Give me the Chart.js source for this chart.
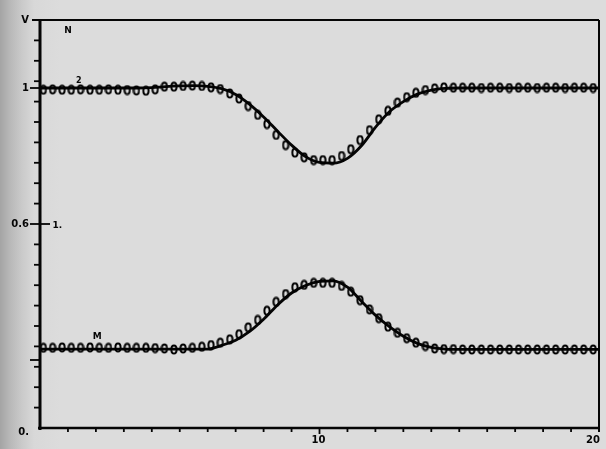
<!DOCTYPE html>
<html>
<head>
<meta charset="utf-8">
<script src="https://cdn.jsdelivr.net/npm/chart.js@4"></script>
<style>
html,body{margin:0;padding:0;}
body{width:606px;height:449px;overflow:hidden;
background:linear-gradient(to right,#a4a4a4 0px,#b8b8b8 10px,#cacaca 22px,#d8d8d8 34px,#dcdcdc 60px,#dcdcdc 100%);}
canvas{display:block;}
</style>
</head>
<body>
<canvas id="c" width="606" height="449"></canvas>
<script>
// marker abscissae (data points)
const markerX = [0.12,0.45,0.79,1.12,1.45,1.79,2.12,2.45,2.79,3.12,3.45,3.79,4.12,4.45,4.79,5.12,5.45,5.79,6.12,6.45,
  6.79,7.12,7.45,7.79,8.12,8.45,8.79,9.12,9.45,9.79,10.12,10.45,10.79,11.12,11.45,11.79,12.12,12.45,12.79,13.12,
  13.45,13.79,14.12,14.45,14.79,15.12,15.45,15.79,16.12,16.45,16.79,17.12,17.45,17.79,18.12,18.45,18.79,19.12,19.45,19.79];
// upper series N (markers)
const markerN = [0.995,0.996,0.995,0.995,0.996,0.995,0.995,0.996,0.995,0.994,0.993,0.992,0.996,1.004,1.004,1.006,1.007,1.006,1.002,0.997,
  0.984,0.969,0.947,0.921,0.894,0.862,0.832,0.810,0.796,0.788,0.788,0.788,0.800,0.820,0.847,0.876,0.908,0.933,0.957,0.973,
  0.986,0.994,0.999,1.002,1.001,1.001,1.001,1.000,1.001,1.001,1.000,1.001,1.001,1.000,1.001,1.001,1.000,1.001,1.001,1.000];
// lower series M (markers)
const markerM = [0.236,0.236,0.237,0.236,0.236,0.237,0.236,0.236,0.237,0.236,0.236,0.236,0.235,0.234,0.231,0.234,0.236,0.239,0.244,0.251,
  0.261,0.276,0.296,0.318,0.345,0.371,0.394,0.414,0.421,0.427,0.427,0.427,0.418,0.401,0.376,0.349,0.323,0.298,0.280,0.264,
  0.251,0.241,0.234,0.232,0.232,0.231,0.231,0.231,0.231,0.231,0.231,0.231,0.231,0.231,0.231,0.231,0.231,0.231,0.231,0.231];
// curve abscissae
const curveX = [0,0.5,1,1.5,2,2.5,3,3.5,4,4.5,5,5.5,6,6.5,7,7.5,8,8.5,9,9.5,10,10.5,11,11.5,12,12.5,13,13.5,14,14.5,15,15.5,16,16.5,17,17.5,18,18.5,19,19.5,20];
const curveN = [1.000,1.000,1.000,1.000,1.000,1.000,1.000,1.000,1.001,1.004,1.006,1.007,1.005,0.998,0.981,0.952,0.915,0.873,0.832,0.798,
  0.781,0.779,0.793,0.830,0.884,0.930,0.960,0.982,0.994,0.999,1.000,1.000,1.000,1.000,1.000,1.000,1.000,1.000,1.000,1.000,1.000];
const curveM = [0.232,0.232,0.232,0.232,0.232,0.232,0.232,0.232,0.232,0.232,0.232,0.232,0.232,0.243,0.258,0.284,0.320,0.362,0.397,0.419,
  0.431,0.433,0.414,0.373,0.332,0.298,0.270,0.249,0.237,0.232,0.231,0.231,0.231,0.231,0.231,0.231,0.231,0.231,0.231,0.231,0.231];
// tick values and labels
const xMinorTicks = [1,2,3,4,5,6,7,8,9,11,12,13,14,15,16,17,18,19];
const xMajorTicks = [10];
const xLabelValues = [10,20];
const xLabelTexts = ['10','20'];
const yMinorTicks = [0.06,0.12,0.18,0.24,0.30,0.36,0.42,0.48,0.54,0.66,0.72,0.78,0.84,0.90,0.96,1.02,1.08,1.14];
const yMajorTicks = [0.2,0.6,1.0];
const yLabelValues = [0,0.6,1.0,1.2];
const yLabelTexts = ['0.','0.6','1','V'];
const noteTexts = ['N','2','1.','M'];
const noteX = [1.0,1.39,0.62,2.05];
const noteY = [1.17,1.02,0.594,0.268];

function ovalMarker(){
  const cv=document.createElement('canvas');cv.width=8;cv.height=11;
  const g=cv.getContext('2d');g.lineWidth=2;g.strokeStyle='#000';
  g.beginPath();g.ellipse(4,5.5,2.6,4.1,0,0,Math.PI*2);g.stroke();
  return cv;
}
const mk = ovalMarker();

const framePlugin = {
  id:'frame',
  afterDraw(chart){
    const {ctx,chartArea:a,scales:{x,y}} = chart;
    ctx.save();
    ctx.strokeStyle='#050505';ctx.fillStyle='#050505';ctx.lineCap='butt';
    ctx.lineWidth=3;
    ctx.beginPath();ctx.moveTo(a.left,a.top);ctx.lineTo(a.left,a.bottom+2);ctx.stroke();
    ctx.lineWidth=2.5;
    ctx.beginPath();ctx.moveTo(a.left-2,a.bottom);ctx.lineTo(a.right+1,a.bottom);ctx.stroke();
    ctx.lineWidth=2;
    ctx.beginPath();ctx.moveTo(a.left-8,a.top);ctx.lineTo(a.right,a.top);ctx.stroke();
    ctx.beginPath();ctx.moveTo(a.right,a.top);ctx.lineTo(a.right,a.bottom+4);ctx.stroke();
    ctx.lineWidth=1.8;
    xMinorTicks.forEach(v=>{const px=x.getPixelForValue(v);ctx.beginPath();ctx.moveTo(px,a.bottom);ctx.lineTo(px,a.bottom+4);ctx.stroke();});
    xMajorTicks.forEach(v=>{const px=x.getPixelForValue(v);ctx.beginPath();ctx.moveTo(px,a.bottom-1);ctx.lineTo(px,a.bottom+6);ctx.stroke();});
    yMinorTicks.forEach(v=>{const py=y.getPixelForValue(v);ctx.beginPath();ctx.moveTo(a.left-6,py);ctx.lineTo(a.left,py);ctx.stroke();});
    yMajorTicks.forEach(v=>{const py=y.getPixelForValue(v);ctx.beginPath();ctx.moveTo(a.left-10,py);ctx.lineTo(a.left+(v===0.6?10:(v===1.0?5:0)),py);ctx.stroke();});
    ctx.font='bold 10px "DejaVu Sans", sans-serif';
    ctx.textBaseline='middle';ctx.textAlign='right';
    yLabelValues.forEach((v,i)=>{let py=y.getPixelForValue(v);if(v===0)py+=4;ctx.fillText(yLabelTexts[i],a.left-11,py);});
    ctx.textBaseline='top';
    xLabelValues.forEach((v,i)=>{const px=x.getPixelForValue(v);ctx.textAlign=(v===20)?'right':'center';ctx.fillText(xLabelTexts[i],px+(v===20?1:-1),a.bottom+7);});
    ctx.textAlign='center';ctx.textBaseline='middle';
    noteTexts.forEach((t,i)=>{ctx.font=(t==='2'?'bold 8px':'bold 9px')+' "DejaVu Sans", sans-serif';ctx.fillText(t,x.getPixelForValue(noteX[i]),y.getPixelForValue(noteY[i]));});
    ctx.restore();
  }
};

const pts=(xs,ys)=>xs.map((v,i)=>({x:v,y:ys[i]}));
new Chart(document.getElementById('c'),{
  type:'line',
  data:{datasets:[
    {data:pts(markerX,markerN),showLine:false,pointStyle:mk,pointRadius:4,order:1},
    {data:pts(markerX,markerM),showLine:false,pointStyle:mk,pointRadius:4,order:1},
    {data:pts(curveX,curveN),borderColor:'#050505',borderWidth:2.8,pointRadius:0,cubicInterpolationMode:'monotone',order:2},
    {data:pts(curveX,curveM),borderColor:'#050505',borderWidth:2.8,pointRadius:0,cubicInterpolationMode:'monotone',order:2}
  ]},
  options:{
    responsive:false,animation:false,
    layout:{padding:{left:40,right:7,top:20,bottom:21}},
    plugins:{legend:{display:false},tooltip:{enabled:false}},
    scales:{
      x:{type:'linear',min:0,max:20,display:false},
      y:{type:'linear',min:0,max:1.2,display:false}
    }
  },
  plugins:[framePlugin]
});
</script>
</body>
</html>
